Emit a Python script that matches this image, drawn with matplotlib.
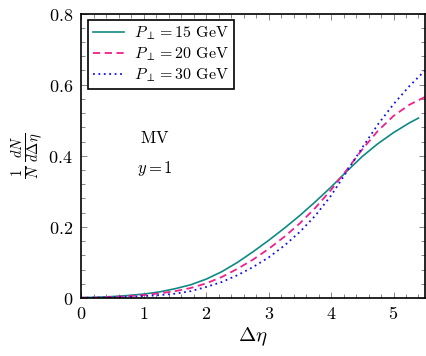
import matplotlib
matplotlib.use("Agg")
import matplotlib.pyplot as plt
from matplotlib.ticker import MultipleLocator, FuncFormatter

plt.rcParams['mathtext.fontset'] = 'cm'
plt.rcParams['font.family'] = ['DejaVu Serif']

# Data
x15 = [0, 0.25, 0.5, 0.75, 1.0, 1.25, 1.5, 1.75, 2.0, 2.25, 2.5, 2.75, 3.0,
       3.25, 3.5, 3.75, 4.0, 4.25, 4.5, 4.75, 5.0, 5.25, 5.4]
y15 = [0.001, 0.002, 0.004, 0.007, 0.011, 0.017, 0.026, 0.037, 0.053, 0.074,
       0.100, 0.130, 0.162, 0.196, 0.232, 0.271, 0.312, 0.356, 0.398, 0.434,
       0.465, 0.492, 0.506]

x20 = [0, 0.25, 0.5, 0.75, 1.0, 1.25, 1.5, 1.75, 2.0, 2.25, 2.5, 2.75, 3.0,
       3.25, 3.5, 3.75, 4.0, 4.25, 4.5, 4.75, 5.0, 5.25, 5.5]
y20 = [0.0007, 0.001, 0.003, 0.005, 0.008, 0.013, 0.019, 0.028, 0.041, 0.059,
       0.082, 0.108, 0.138, 0.172, 0.210, 0.254, 0.304, 0.360, 0.418, 0.470,
       0.512, 0.543, 0.565]

x30 = [0, 0.25, 0.5, 0.75, 1.0, 1.25, 1.5, 1.75, 2.0, 2.25, 2.5, 2.75, 3.0,
       3.25, 3.5, 3.75, 4.0, 4.25, 4.5, 4.75, 5.0, 5.25, 5.5]
y30 = [0.0004, 0.0008, 0.0015, 0.003, 0.005, 0.008, 0.012, 0.019, 0.031, 0.045,
       0.064, 0.087, 0.114, 0.147, 0.186, 0.232, 0.288, 0.355, 0.423, 0.488,
       0.545, 0.595, 0.639]

labels = [r'$P_{\perp} = 15\ \mathrm{GeV}$',
          r'$P_{\perp} = 20\ \mathrm{GeV}$',
          r'$P_{\perp} = 30\ \mathrm{GeV}$']
xticks = [0, 1, 2, 3, 4, 5]
yticks = [0, 0.2, 0.4, 0.6, 0.8]

fig = plt.figure(figsize=(4.26, 3.56), dpi=100)
ax = fig.add_axes([0.191, 0.163, 0.806, 0.799])

ax.plot(x15, y15, color='#0e8a84', lw=1.2, ls='-', label=labels[0])
ax.plot(x20, y20, color='#f0208c', lw=1.3, ls=(0, (4, 2.5)), label=labels[1])
ax.plot(x30, y30, color='#1010f0', lw=1.3, ls=(0, (1, 2)), label=labels[2])

ax.set_xlim(0, 5.5)
ax.set_ylim(0, 0.8)
ax.set_xticks(xticks)
ax.set_yticks(yticks)
ax.xaxis.set_minor_locator(MultipleLocator(0.2))
ax.yaxis.set_minor_locator(MultipleLocator(0.04))

def fmt(v, pos):
    s = ('%g' % v)
    return '$' + s + '$'
ax.xaxis.set_major_formatter(FuncFormatter(fmt))
ax.yaxis.set_major_formatter(FuncFormatter(fmt))

ax.tick_params(which='both', direction='in', top=True, right=True,
               color='0.45', width=0.6)
ax.tick_params(which='major', length=4.5, labelsize=13, pad=5)
ax.tick_params(which='minor', length=3)
ax.tick_params(axis='y', which='major', pad=6)
for s in ax.spines.values():
    s.set_linewidth(1.2)

ax.set_xlabel(r'$\Delta\eta$', fontsize=15, labelpad=2)
ax.set_ylabel(r'$\frac{1}{N}\,\frac{dN}{d\Delta\eta}$', fontsize=15, labelpad=2)

ax.text(1.18, 0.448, r'$\mathrm{MV}$', fontsize=12, ha='center', va='center')
ax.text(1.18, 0.364, r'$y = 1$', fontsize=12, ha='center', va='center')

leg = ax.legend(loc='upper left', fontsize=11.5, frameon=True, fancybox=False,
                edgecolor='black', framealpha=1, borderpad=0.3,
                handlelength=2.0, handletextpad=0.6, labelspacing=0.2,
                borderaxespad=0.4)
leg.get_frame().set_linewidth(1.2)

fig.savefig('out.png', dpi=100)
